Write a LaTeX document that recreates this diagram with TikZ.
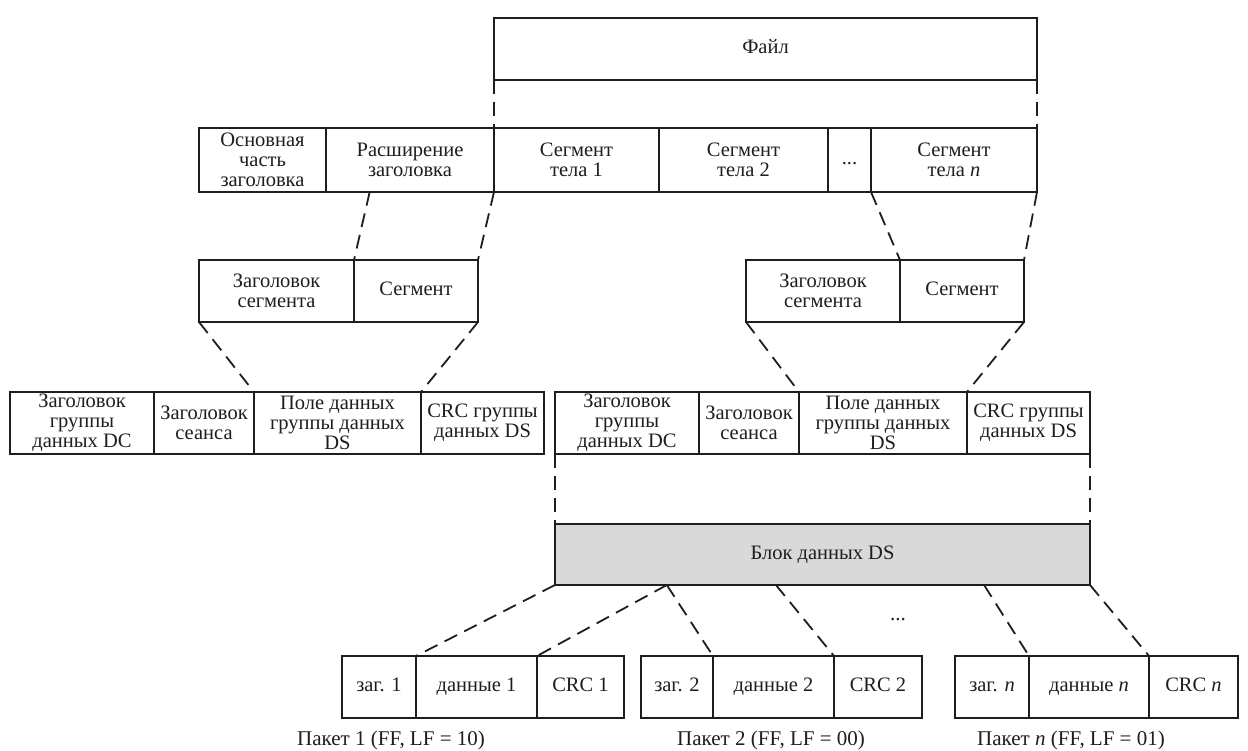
\documentclass[tikz,border=0pt]{standalone}
\usepackage{fontspec}
\setmainfont{Liberation Serif}
\usetikzlibrary{calc}

\definecolor{ink}{HTML}{1E1E1E}
\definecolor{blockgray}{HTML}{D9D9D9}

% one framed cell: [extra style] name, x1, y1, x2, y2, text
\newcommand\cellbox[7][]{%
  \node[cell, minimum width={#5-#3}, minimum height={#6-#4}, #1]
    (#2) at ({(#3+#5)/2},{(#4+#6)/2}) {#7};}

\begin{document}
\begin{tikzpicture}[x=1pt, y=-1pt,
  cell/.style={draw=ink, line width=1.8pt, inner sep=0pt, outer sep=0pt,
    align=center, text=ink, font=\fontsize{20.5}{20}\selectfont},
  oneline/.style={text height=14pt, text depth=4.5pt},
  link/.style={draw=ink, line width=1.8pt, dash pattern=on 14pt off 8pt},
  caption/.style={inner sep=0pt, text=ink, font=\fontsize{21}{21}\selectfont}]

\useasboundingbox (0,0) rectangle (1248,751);
\fill[white] (0,0) rectangle (1248,751);

% file
\cellbox[oneline]{file}{494}{18}{1037}{80}{Файл}

% file structure: header and body segments
\cellbox{hmain}{199}{128}{326}{192}{Основная\\часть\\заголовка}
\cellbox{hext}{326}{128}{494}{192}{Расширение\\заголовка}
\cellbox{body1}{494}{128}{659}{192}{Сегмент\\тела 1}
\cellbox{body2}{659}{128}{828}{192}{Сегмент\\тела 2}
\cellbox[oneline]{bdots}{828}{128}{871}{192}{...}
\cellbox{bodyn}{871}{128}{1037}{192}{Сегмент\\тела \textit{n}}

% segments
\cellbox{lsh}{199}{260}{354}{322}{Заголовок\\сегмента}
\cellbox[oneline]{lsd}{354}{260}{478}{322}{Сегмент}
\cellbox{rsh}{746}{260}{900}{322}{Заголовок\\сегмента}
\cellbox[oneline]{rsd}{900}{260}{1024}{322}{Сегмент}

% DS data groups
\cellbox{lg1}{10}{392}{154}{454}{Заголовок\\группы\\данных DC}
\cellbox{lg2}{154}{392}{254}{454}{Заголовок\\сеанса}
\cellbox{lg3}{254}{392}{421}{454}{Поле данных\\группы данных\\DS}
\cellbox{lg4}{421}{392}{544}{454}{CRC группы\\данных DS}
\cellbox{rg1}{555}{392}{699}{454}{Заголовок\\группы\\данных DC}
\cellbox{rg2}{699}{392}{799}{454}{Заголовок\\сеанса}
\cellbox{rg3}{799}{392}{967}{454}{Поле данных\\группы данных\\DS}
\cellbox{rg4}{967}{392}{1090}{454}{CRC группы\\данных DS}

% DS data block
\cellbox[oneline, fill=blockgray]{block}{555}{524}{1090}{585}{Блок данных DS}

% packets
\cellbox[oneline]{p1h}{342}{656}{416}{718}{заг. 1}
\cellbox[oneline]{p1d}{416}{656}{537}{718}{данные 1}
\cellbox[oneline]{p1c}{537}{656}{624}{718}{CRC 1}
\cellbox[oneline]{p2h}{641}{656}{713}{718}{заг. 2}
\cellbox[oneline]{p2d}{713}{656}{834}{718}{данные 2}
\cellbox[oneline]{p2c}{834}{656}{922}{718}{CRC 2}
\cellbox[oneline]{pnh}{955}{656}{1029}{718}{заг. \textit{n}}
\cellbox[oneline]{pnd}{1029}{656}{1149}{718}{данные \textit{n}}
\cellbox[oneline]{pnc}{1149}{656}{1238}{718}{CRC \textit{n}}

\node[caption] (cap1) at (391,740) {Пакет 1 (FF, LF = 10)};
\node[caption] (cap2) at (771,740) {Пакет 2 (FF, LF = 00)};
\node[caption] (capn) at (1071,740) {Пакет \textit{n} (FF, LF = 01)};
\node[caption] (pdots) at (898,620) {...};

% expansion lines
\draw[link] (file.south west) -- (body1.north west);
\draw[link] (file.south east) -- (bodyn.north east);

\draw[link] ($(hext.south west)!0.26!(hext.south east)$) -- (lsh.north east);
\draw[link] (hext.south east) -- (lsd.north east);
\draw[link] (bodyn.south west) -- (rsh.north east);
\draw[link] (bodyn.south east) -- (rsd.north east);

\draw[link] (lsh.south west) -- (lg3.north west);
\draw[link] (lsd.south east) -- (lg3.north east);
\draw[link] (rsh.south west) -- (rg3.north west);
\draw[link] (rsd.south east) -- (rg3.north east);

\draw[link] (rg1.south west) -- (block.north west);
\draw[link] (rg4.south east) -- (block.north east);

\draw[link] (block.south west) -- (p1d.north west);
\draw[link] ($(block.south west)!0.209!(block.south east)$) -- (p1d.north east);
\draw[link] ($(block.south west)!0.209!(block.south east)$) -- (p2d.north west);
\draw[link] ($(block.south west)!0.413!(block.south east)$) -- (p2d.north east);
\draw[link] ($(block.south west)!0.802!(block.south east)$) -- (pnd.north west);
\draw[link] (block.south east) -- (pnd.north east);
\end{tikzpicture}
\end{document}
